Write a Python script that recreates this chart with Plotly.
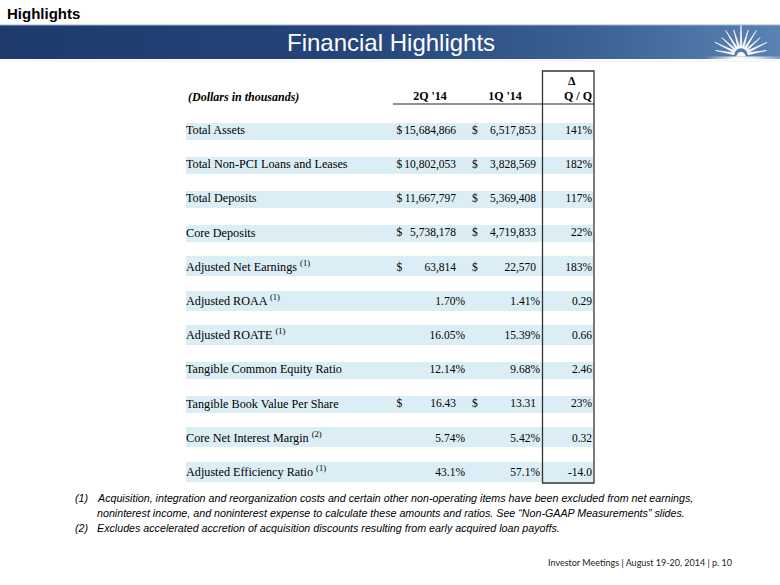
import numpy as np
import plotly.graph_objects as go

# ---------------- data ----------------
row_labels = ["Total Assets", "Total Non-PCI Loans and Leases", "Total Deposits",
              "Core Deposits", "Adjusted Net Earnings", "Adjusted ROAA",
              "Adjusted ROATE", "Tangible Common Equity Ratio",
              "Tangible Book Value Per Share", "Core Net Interest Margin",
              "Adjusted Efficiency Ratio"]
row_notes = ["", "", "", "", "(1)", "(1)", "(1)", "", "", "(2)", "(1)"]
q2_14 = ["15,684,866", "10,802,053", "11,667,797", "5,738,178", "63,814",
         "1.70%", "16.05%", "12.14%", "16.43", "5.74%", "43.1%"]
q1_14 = ["6,517,853", "3,828,569", "5,369,408", "4,719,833", "22,570",
         "1.41%", "15.39%", "9.68%", "13.31", "5.42%", "57.1%"]
has_dollar = [True, True, True, True, True, False, False, False, True, False, False]
delta_qq = ["141%", "182%", "117%", "22%", "183%", "0.29", "0.66", "2.46",
            "23%", "0.32", "-14.0"]
col_headers = ["2Q '14", "1Q '14", "Q / Q"]
footnotes = [
    ("(1)", "Acquisition, integration and reorganization costs and certain other non-operating items have been excluded from net earnings,"),
    ("", "noninterest income, and noninterest expense to calculate these amounts and ratios. See \u201cNon-GAAP Measurements\u201d slides."),
    ("(2)", "Excludes accelerated accretion of acquisition discounts resulting from early acquired loan payoffs."),
]
footer_text = "Investor Meetings | August 19-20, 2014 | p. 10"

# ---------------- layout helpers ----------------
W, H = 780, 585
SERIF = "Liberation Serif, Times New Roman, serif"
SANS = "Liberation Sans, Arial, sans-serif"
FS_LAB = 12.2
FS_NUM = 11.5

n = len(row_labels)
row_y = [131 + 34.2 * i for i in range(n)]
band_h = [20 if nt else 17 for nt in row_notes]
band_y = [y - (1.5 if nt else 0) for y, nt in zip(row_y, row_notes)]

fig = go.Figure()

# banner with gradient
fig.add_trace(go.Scatter(
    x=[0, W, W, 0, 0], y=[25, 25, 59, 59, 25], mode="none", fill="toself",
    fillgradient=dict(type="horizontal",
                      colorscale=[[0, "#1d3a6b"], [0.45, "#24457a"], [0.75, "#3a6094"], [1, "#5a83b3"]]),
    hoverinfo="skip", showlegend=False))

# bottom glow of the logo
fig.add_trace(go.Scatter(
    x=[705, W, W, 705, 705], y=[56.5, 56.5, 59.5, 59.5, 56.5], mode="none", fill="toself",
    fillgradient=dict(type="horizontal",
                      colorscale=[[0, "rgba(255,255,255,0)"], [0.4, "rgba(255,255,255,0.95)"],
                                  [0.65, "rgba(255,255,255,0.85)"], [1, "rgba(255,255,255,0.2)"]]),
    hoverinfo="skip", showlegend=False))

# logo rays
cx, cy = 741, 55
angles = np.linspace(10, 170, 11)
for k, a in enumerate(angles):
    if abs(a - 90) < 1:
        L = 32
    elif k % 2 == 0:
        L = 26
    else:
        L = 29
    r0 = 7
    half = np.radians(8)
    t = np.radians(a)
    xs = [cx + r0 * np.cos(t - half), cx + L * np.cos(t), cx + r0 * np.cos(t + half)]
    ys = [cy - r0 * np.sin(t - half), cy - L * np.sin(t), cy - r0 * np.sin(t + half)]
    fig.add_trace(go.Scatter(x=xs + [xs[0]], y=ys + [ys[0]], mode="lines", fill="toself",
                             fillcolor="white", line=dict(color="white", width=0.6),
                             hoverinfo="skip", showlegend=False))
th = np.linspace(0, np.pi, 30)
fig.add_trace(go.Scatter(x=list(cx + 4.5 * np.cos(th)), y=list(cy + 1.5 - 4.5 * np.sin(th)),
                         mode="none", fill="toself", fillcolor="white",
                         hoverinfo="skip", showlegend=False))

# row bands
fig.add_trace(go.Bar(
    orientation="h", y=band_y, x=[593 - 186] * n, base=186, width=band_h,
    marker=dict(color="#dbeef5", line=dict(width=0)),
    hoverinfo="skip", showlegend=False))

# labels
label_text = [lab + (" <sup>" + nt + "</sup>" if nt else "") for lab, nt in zip(row_labels, row_notes)]
fig.add_trace(go.Scatter(x=[186] * n, y=row_y, mode="text", text=label_text,
                         textposition="middle right",
                         textfont=dict(family=SERIF, size=FS_LAB, color="black"),
                         hoverinfo="skip", showlegend=False))

def right_col(vals, x_num, x_pct):
    xs = [x_pct if v.endswith("%") else x_num for v in vals]
    return go.Scatter(x=xs, y=row_y, mode="text", text=vals, textposition="middle left",
                      textfont=dict(family=SERIF, size=FS_NUM, color="black"),
                      hoverinfo="skip", showlegend=False)

fig.add_trace(right_col(q2_14, 456, 465))
fig.add_trace(right_col(q1_14, 536, 540))
fig.add_trace(right_col(delta_qq, 592, 592))

# dollar signs
dy = [y for y, d in zip(row_y, has_dollar) if d]
fig.add_trace(go.Scatter(x=[396.5] * len(dy) + [472] * len(dy), y=dy + dy, mode="text",
                         text=["$"] * (2 * len(dy)), textposition="middle right",
                         textfont=dict(family=SERIF, size=FS_NUM, color="black"),
                         hoverinfo="skip", showlegend=False))

# column headers
fig.add_trace(go.Scatter(x=[430, 505, 578], y=[97, 97, 97], mode="text",
                         text=["<b>" + h + "</b>" for h in col_headers],
                         textposition="middle center",
                         textfont=dict(family=SERIF, size=12, color="black"),
                         hoverinfo="skip", showlegend=False))

ann = []
ann.append(dict(x=572, y=81, text="<b>\u0394</b>", showarrow=False, xanchor="center", yanchor="middle",
                font=dict(family=SERIF, size=12, color="black")))
ann.append(dict(x=186, y=97, text="<b><i>(Dollars in thousands)</i></b>", showarrow=False,
                xanchor="left", yanchor="middle", font=dict(family=SERIF, size=12, color="black")))
ann.append(dict(x=5, y=13, text="<b>Highlights</b>", showarrow=False, xanchor="left", yanchor="middle",
                font=dict(family=SANS, size=15, color="black")))
ann.append(dict(x=391, y=42, text="Financial Highlights", showarrow=False, xanchor="center",
                yanchor="middle", font=dict(family=SANS, size=24, color="white")))
fy = [498, 513, 528]
for (tag, txt), y in zip(footnotes, fy):
    if tag:
        ann.append(dict(x=73, y=y, text="<i>" + tag + "</i>", showarrow=False, xanchor="left",
                        yanchor="middle", font=dict(family=SANS, size=10.7, color="black")))
    ann.append(dict(x=95, y=y, text="<i>" + txt + "</i>", showarrow=False, xanchor="left",
                    yanchor="middle", font=dict(family=SANS, size=10.7, color="black")))
ann.append(dict(x=734, y=562, text=footer_text, showarrow=False, xanchor="right", yanchor="middle",
                font=dict(family="Lato, Open Sans, sans-serif", size=9, color="#222222")))
for a in ann:
    a.update(xref="x", yref="y")

shapes = [
    dict(type="line", x0=0, x1=W, y0=25, y1=25, line=dict(color="#9fb3cf", width=1)),
    dict(type="line", x0=0, x1=W, y0=61, y1=61, line=dict(color="#eeeeee", width=1)),
    dict(type="line", x0=393, x1=594, y0=104, y1=104, line=dict(color="#222222", width=1)),
    dict(type="rect", x0=542.5, x1=594, y0=71, y1=483, line=dict(color="#333333", width=1.3)),
]

fig.update_layout(
    width=W, height=H, margin=dict(l=0, r=0, t=0, b=0),
    paper_bgcolor="white", plot_bgcolor="white",
    xaxis=dict(range=[0, W], visible=False, fixedrange=True),
    yaxis=dict(range=[H, 0], visible=False, fixedrange=True),
    annotations=ann, shapes=shapes, bargap=0, showlegend=False,
)

fig.write_html("out.html", config={"displayModeBar": False},
               post_script="document.body.style.margin='0px';document.body.style.overflow='hidden';")
